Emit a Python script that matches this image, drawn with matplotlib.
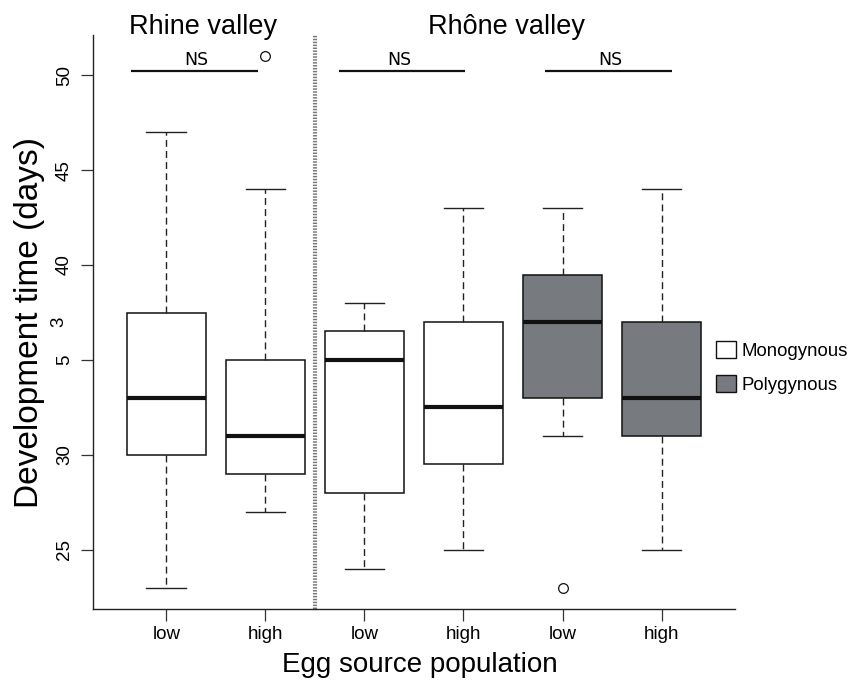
"""Development time boxplot, Rhine vs Rhone valley egg sources."""

import matplotlib

matplotlib.use("Agg")
import matplotlib.pyplot as plt
from matplotlib.patches import Patch

plt.rcParams["font.family"] = ["Liberation Sans", "DejaVu Sans"]

# group labels along the x axis
tick_labels = ["low", "high", "low", "high", "low", "high"]
colony_type = ["Monogynous", "Monogynous", "Monogynous", "Monogynous",
               "Polygynous", "Polygynous"]

# box statistics (days)
whisker_low = [23, 27, 24, 25, 31, 25]
quart_1 = [30, 29, 28, 29.5, 33, 31]
medians = [33, 31, 35, 32.5, 37, 33]
quart_3 = [37.5, 35, 36.5, 37, 39.5, 37]
whisker_high = [47, 44, 38, 43, 43, 44]
outliers = [[], [51], [], [], [23], []]

# "NS" comparison bars: (start, end) in box positions
ns_spans = [(0.64, 1.93), (2.74, 4.02), (4.82, 6.10)]
ns_text_x = [1.30, 3.35, 5.48]
NS_Y = 50.2

FILL = {"Monogynous": "white", "Polygynous": "#777b7f"}


def main():
    fig = plt.figure(figsize=(8.56, 6.83), dpi=100)
    ax = fig.add_axes([0.1086, 0.1083, 0.75, 0.8405])

    stats = []
    for i in range(len(medians)):
        stats.append({
            "whislo": whisker_low[i], "q1": quart_1[i], "med": medians[i],
            "q3": quart_3[i], "whishi": whisker_high[i], "fliers": outliers[i],
        })

    positions = list(range(1, len(stats) + 1))
    bp = ax.bxp(
        stats,
        positions=positions,
        widths=0.8,
        patch_artist=True,
        showfliers=True,
        boxprops=dict(linewidth=1.1, edgecolor="#111111"),
        medianprops=dict(linewidth=3.0, color="#111111", solid_capstyle="butt"),
        whiskerprops=dict(linewidth=1.0, color="#222222", linestyle=(0, (5, 3))),
        capprops=dict(linewidth=1.0, color="#222222"),
        capwidths=0.4,
        flierprops=dict(marker="o", markersize=7, markerfacecolor="none",
                        markeredgecolor="#111111", markeredgewidth=0.9),
    )
    for patch, kind in zip(bp["boxes"], colony_type):
        patch.set_facecolor(FILL[kind])

    # valley separator
    ax.axvline(2.5, color="#777777", linewidth=3, linestyle=(0, (0.35, 0.35)))

    for (x0, x1), tx in zip(ns_spans, ns_text_x):
        ax.plot([x0, x1], [NS_Y, NS_Y], color="#111111", linewidth=1.6,
                solid_capstyle="butt")
        ax.text(tx, NS_Y + 0.15, "NS", ha="center", va="bottom",
                fontsize=12.5, family="DejaVu Sans")

    ax.text(1.37, 52.16, "Rhine valley", ha="center", va="baseline", fontsize=19.5)
    ax.text(4.43, 52.16, "Rhône valley", ha="center", va="baseline", fontsize=19.5)

    ax.set_xlim(0.26, 6.74)
    ax.set_ylim(21.88, 52.12)
    ax.set_xticks(positions, tick_labels, fontsize=13.5)
    ax.set_yticks([25, 30, 35, 40, 45, 50],
                  ["25", "30", "5", "40", "45", "50"],
                  fontsize=13.5, rotation=90, va="center")
    ax.tick_params(axis="both", direction="out", length=8.3, width=0.9,
                   color="#333333")
    ax.tick_params(axis="y", pad=6)
    ax.tick_params(axis="x", pad=4)
    # stray glyph next to the 35 tick in the original
    ax.text(-0.053, 37.0, "3", transform=ax.get_yaxis_transform(),
            rotation=90, ha="center", va="center", fontsize=13.5)

    for side in ("top", "right"):
        ax.spines[side].set_visible(False)
    for side in ("left", "bottom"):
        ax.spines[side].set_linewidth(1.0)
        ax.spines[side].set_color("#222222")

    ax.set_ylabel("Development time (days)", fontsize=24)
    ax.yaxis.set_label_coords(-0.075, 0.5)
    ax.set_xlabel("Egg source population", fontsize=20)
    ax.xaxis.set_label_coords(0.5086, -0.074)

    handles = [Patch(facecolor=FILL[k], edgecolor="#111111", linewidth=1.0)
               for k in ("Monogynous", "Polygynous")]
    fig.legend(handles, ["Monogynous", "Polygynous"], loc="center left",
               bbox_to_anchor=(0.817, 0.462), frameon=False, fontsize=13.4,
               handlelength=1.05, handleheight=1.05, handletextpad=0.3,
               labelspacing=0.8)

    fig.savefig("out.png", dpi=100)
    plt.close(fig)


if __name__ == "__main__":
    main()
